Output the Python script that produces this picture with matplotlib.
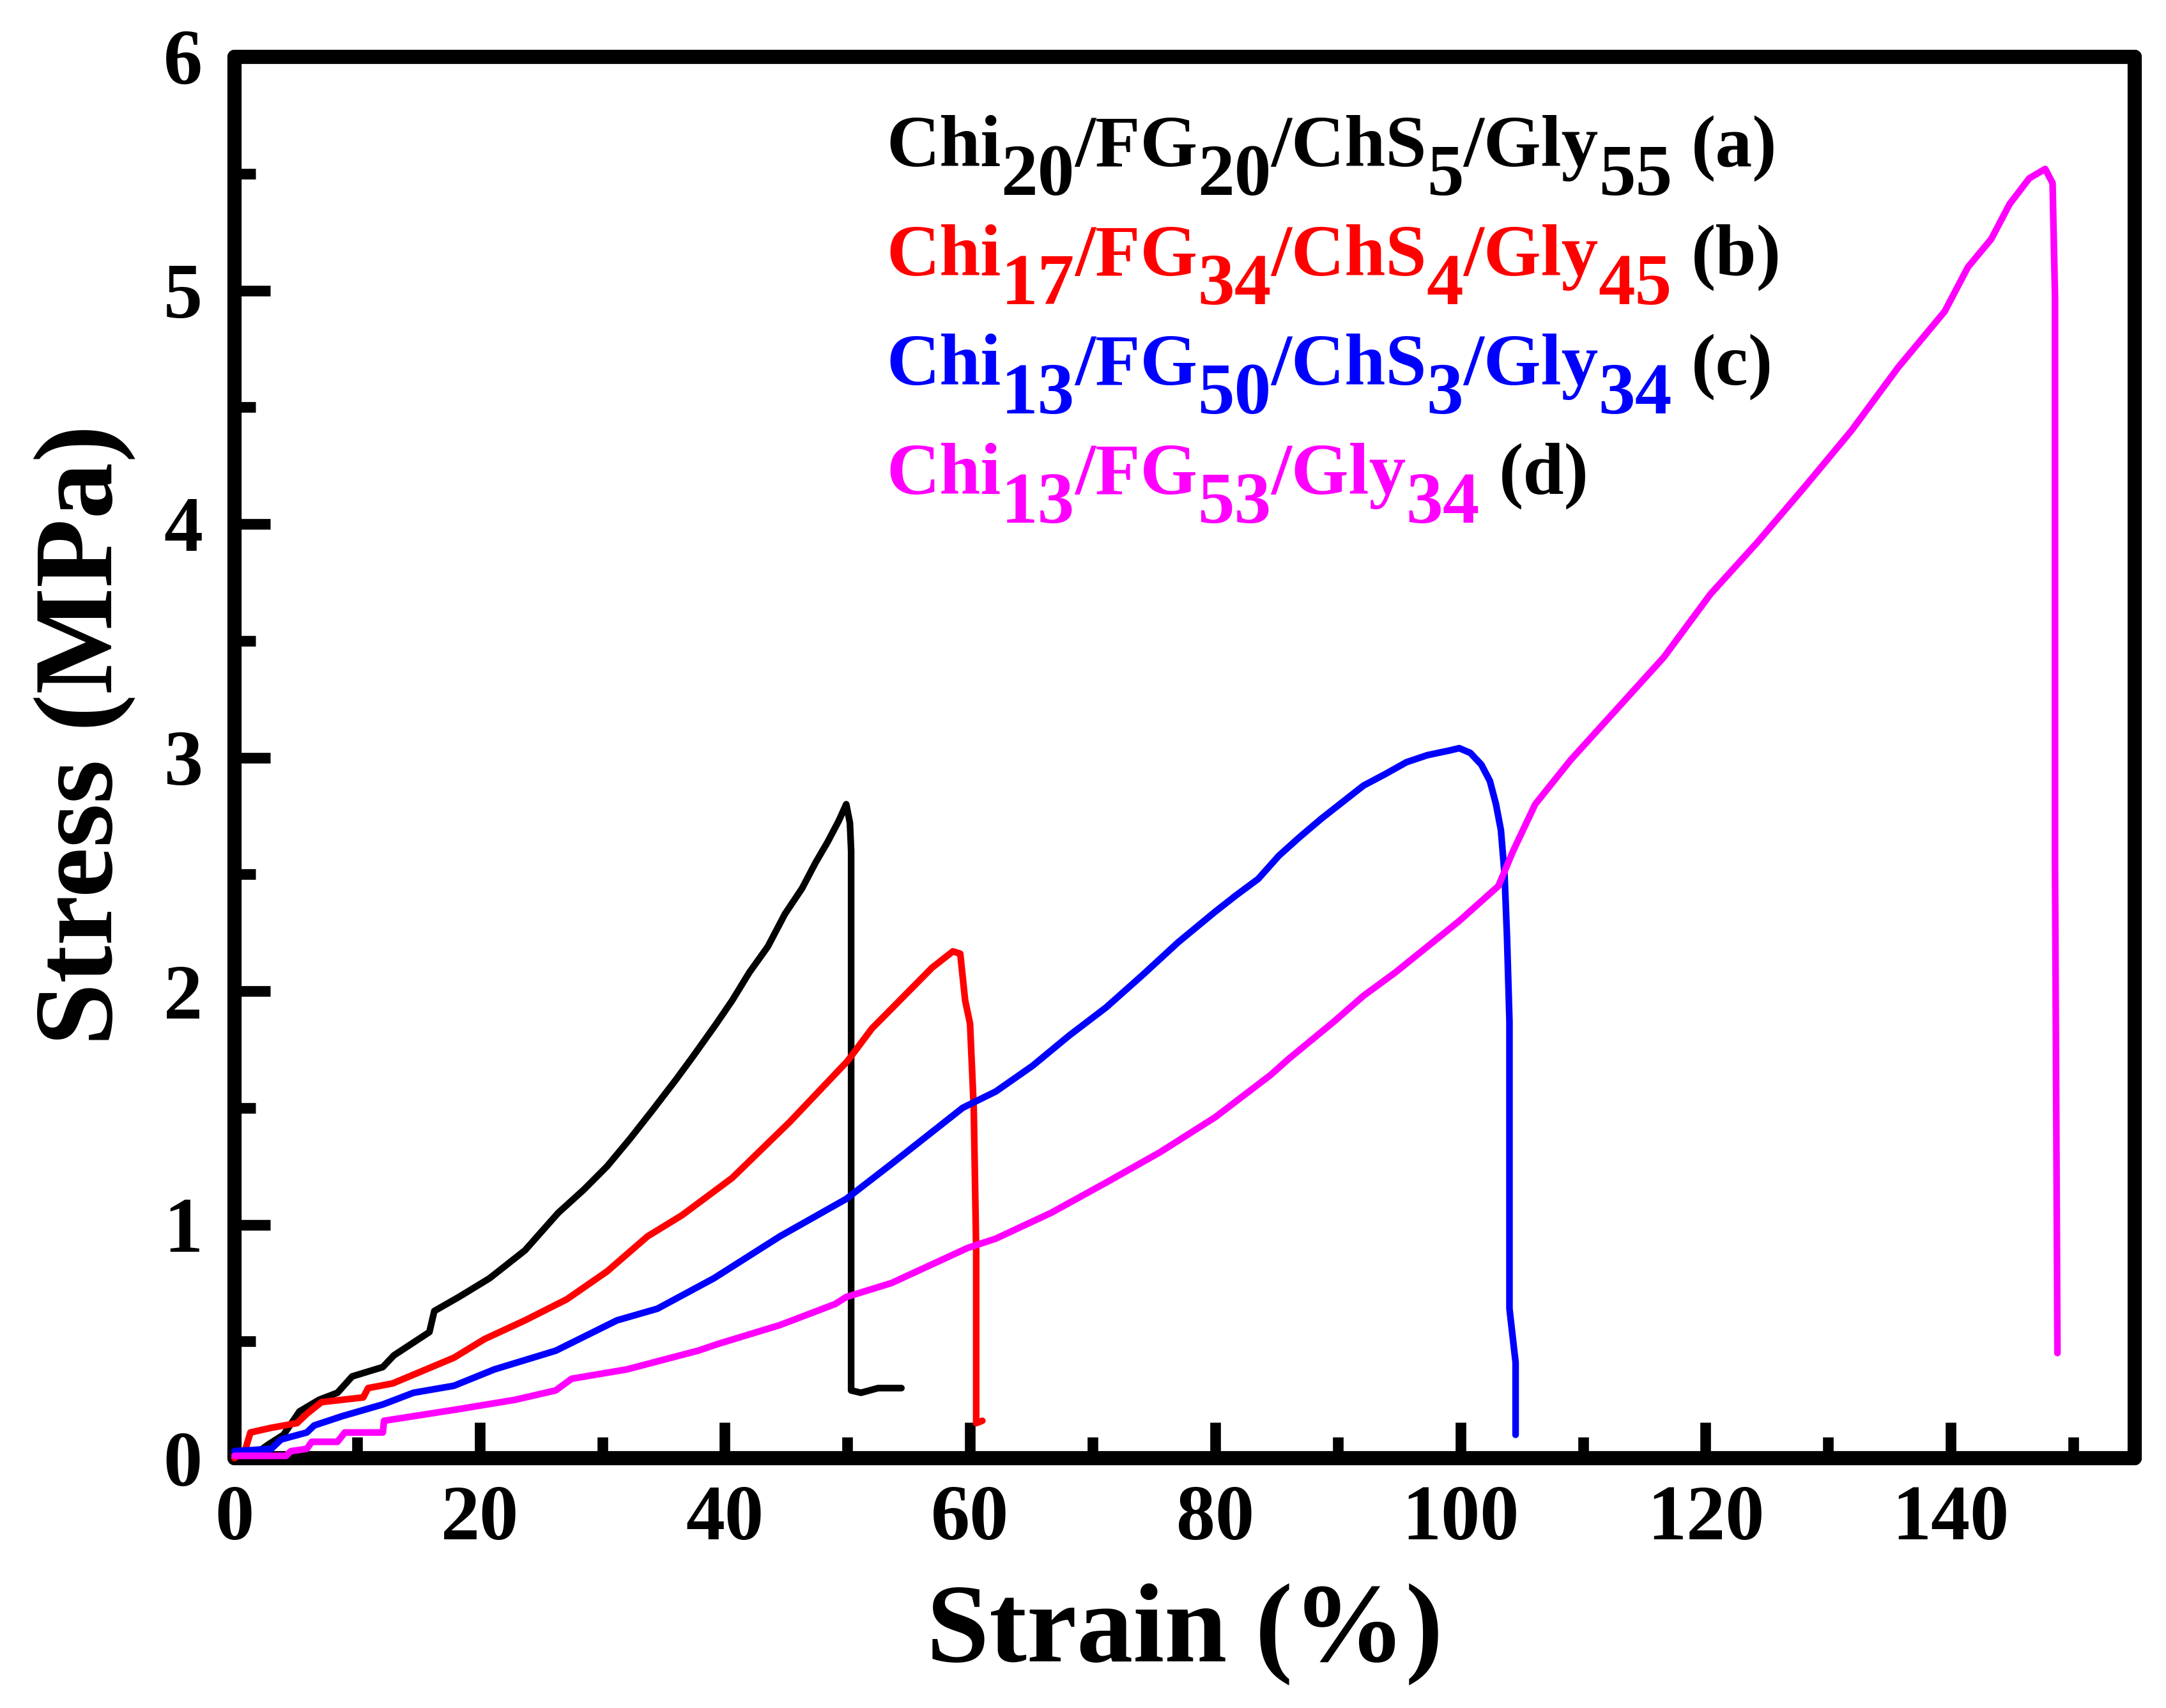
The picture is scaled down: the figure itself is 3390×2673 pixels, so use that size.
import matplotlib
matplotlib.use("Agg")
import matplotlib.pyplot as plt
from matplotlib.ticker import MultipleLocator, FixedLocator

# ---------------- data ----------------
strain_a = [0.0, 0.9, 2.0, 2.8, 4.0, 5.3, 6.9, 8.4, 9.6, 12.1, 13.0, 15.9, 16.3, 18.3, 20.8,
            23.7, 26.4, 28.5, 30.4, 32.3, 34.1, 36.0, 37.4, 39.3, 40.6, 42.0, 43.5, 44.9,
            46.3, 47.4, 48.4, 49.3, 49.9, 50.2, 50.3, 50.3, 50.3, 51.1, 52.5, 54.4]
stress_a = [0.0, 0.02, 0.03, 0.06, 0.10, 0.20, 0.25, 0.28, 0.35, 0.39, 0.44, 0.54, 0.63, 0.69,
            0.77, 0.89, 1.05, 1.15, 1.25, 1.37, 1.49, 1.62, 1.72, 1.86, 1.96, 2.08, 2.19, 2.33,
            2.44, 2.55, 2.64, 2.73, 2.80, 2.72, 2.60, 1.90, 0.29, 0.28, 0.30, 0.30]

strain_b = [0.0, 0.9, 1.3, 3.0, 5.1, 5.9, 7.1, 10.5, 10.9, 12.9, 17.9, 20.4, 23.7, 27.1, 30.4,
            33.7, 36.5, 40.6, 45.3, 50.0, 52.0, 53.7, 56.9, 58.6, 59.2, 59.6, 60.0, 60.3, 60.5,
            60.5, 61.0]
stress_b = [0.0, 0.04, 0.11, 0.13, 0.15, 0.19, 0.24, 0.26, 0.30, 0.32, 0.43, 0.51, 0.59, 0.68,
            0.80, 0.95, 1.04, 1.20, 1.44, 1.70, 1.84, 1.93, 2.10, 2.17, 2.16, 1.96, 1.86, 1.50,
            0.89, 0.15, 0.16]

strain_c = [0.0, 3.0, 3.8, 5.9, 6.5, 8.8, 12.1, 14.6, 17.9, 21.2, 26.2, 31.2, 34.5, 39.1, 44.5,
            49.9, 53.6, 59.4, 62.1, 65.1, 68.1, 71.1, 74.1, 77.0, 80.0, 81.7, 83.5, 85.2, 86.9,
            88.7, 90.4, 92.1, 93.9, 95.6, 97.3, 99.1, 99.9, 100.8, 101.7, 102.4, 102.9, 103.3,
            103.6, 103.8, 104.0, 104.0, 104.0, 104.5, 104.5]
stress_c = [0.03, 0.04, 0.08, 0.11, 0.14, 0.18, 0.23, 0.28, 0.31, 0.38, 0.46, 0.59, 0.64, 0.77,
            0.95, 1.11, 1.26, 1.50, 1.57, 1.68, 1.81, 1.93, 2.07, 2.21, 2.34, 2.41, 2.48, 2.58,
            2.66, 2.74, 2.81, 2.88, 2.93, 2.98, 3.01, 3.03, 3.04, 3.02, 2.97, 2.90, 2.80, 2.69,
            2.50, 2.23, 1.87, 1.20, 0.64, 0.41, 0.10]

strain_d = [0.0, 4.2, 4.6, 5.9, 6.3, 8.4, 9.0, 12.1, 12.2, 18.3, 22.9, 26.2, 27.5, 32.0, 37.8,
            39.5, 44.5, 49.0, 49.9, 53.6, 59.8, 62.1, 66.6, 71.1, 75.5, 80.0, 84.5, 86.0, 89.7,
            92.1, 94.7, 97.3, 99.9, 103.1, 104.3, 106.1, 109.0, 112.8, 116.6, 120.4, 124.2,
            128.1, 131.9, 135.7, 139.5, 141.4, 143.3, 144.8, 146.4, 147.7, 148.3, 148.5, 148.5,
            148.7]
stress_d = [0.01, 0.01, 0.03, 0.04, 0.07, 0.07, 0.11, 0.11, 0.16, 0.21, 0.25, 0.29, 0.34, 0.38,
            0.46, 0.49, 0.57, 0.66, 0.69, 0.75, 0.90, 0.94, 1.05, 1.18, 1.31, 1.46, 1.64, 1.71,
            1.87, 1.98, 2.08, 2.19, 2.30, 2.45, 2.60, 2.80, 2.99, 3.21, 3.43, 3.70, 3.92, 4.16,
            4.40, 4.67, 4.91, 5.10, 5.22, 5.37, 5.48, 5.52, 5.46, 4.97, 2.55, 0.45]

series_colors = ["#000000", "#FF0000", "#0000FF", "#FF00FF"]

# legend text pieces: (text, is_subscript)
legend_a = [("Chi", False), ("20", True), ("/FG", False), ("20", True),
            ("/ChS", False), ("5", True), ("/Gly", False), ("55", True)]
legend_b = [("Chi", False), ("17", True), ("/FG", False), ("34", True),
            ("/ChS", False), ("4", True), ("/Gly", False), ("45", True)]
legend_c = [("Chi", False), ("13", True), ("/FG", False), ("50", True),
            ("/ChS", False), ("3", True), ("/Gly", False), ("34", True)]
legend_d = [("Chi", False), ("13", True), ("/FG", False), ("53", True),
            ("/Gly", False), ("34", True)]
legend_tags = ["(a)", "(b)", "(c)", "(d)"]

x_ticks = [0, 20, 40, 60, 80, 100, 120, 140]
y_ticks = [0, 1, 2, 3, 4, 5, 6]
x_label = "Strain (%)"
y_label = "Stress (MPa)"

# ---------------- figure ----------------
W, H, DPI = 3390, 2673, 100
FONT = "Liberation Serif"
plt.rcParams["font.family"] = [FONT, "DejaVu Serif"]
plt.rcParams["font.weight"] = "bold"

fig = plt.figure(figsize=(W / DPI, H / DPI), dpi=DPI, facecolor="white")
ax = fig.add_axes([367 / W, 1 - 2282 / H, (3341 - 367) / W, (2282 - 89) / H])

curves = [(strain_a, stress_a), (strain_b, stress_b), (strain_c, stress_c), (strain_d, stress_d)]
for (xs, ys), c in zip(curves, series_colors):
    ax.plot(xs, ys, color=c, lw=7.5, solid_joinstyle="round", solid_capstyle="round",
            zorder=3, clip_on=False)

ax.set_xlim(0, 155)
ax.set_ylim(0, 6)
ax.xaxis.set_major_locator(FixedLocator(x_ticks))
ax.yaxis.set_major_locator(FixedLocator(y_ticks))
ax.xaxis.set_minor_locator(MultipleLocator(10))
ax.yaxis.set_minor_locator(MultipleLocator(0.5))
ax.set_xticklabels([str(v) for v in x_ticks])
ax.set_yticklabels([str(v) for v in y_ticks])

for s in ax.spines.values():
    s.set_linewidth(16)
    s.set_capstyle("round")
    s.set_joinstyle("round")

ax.tick_params(which="both", direction="in", top=False, right=False, color="black")
ax.tick_params(which="major", length=40, width=12)
ax.tick_params(which="minor", length=24, width=12)
ax.tick_params(axis="y", which="major", pad=36, labelsize=88)
ax.tick_params(axis="x", which="major", pad=30, labelsize=88)
for lab in ax.get_xticklabels() + ax.get_yticklabels():
    lab.set_fontweight("bold")
    lab.set_family(FONT)

ax.set_xlabel(x_label, fontsize=127, fontweight="bold", family=FONT)
ax.set_ylabel(y_label, fontsize=127, fontweight="bold", family=FONT)
ax.xaxis.set_label_coords(0.5, -0.089)
ax.yaxis.set_label_coords(-0.052, 0.516)

# ---------------- legend (text with same-size subscripts) ----------------
renderer = fig.canvas.get_renderer()
LEG_FS = 83
x_start = 1387
baselines = [260, 431, 602, 773]
sub_drop = 45
tag_gap = 30
rows = [legend_a, legend_b, legend_c, legend_d]
for row, tag, color, yb in zip(rows, legend_tags, series_colors, baselines):
    x = x_start
    for txt, sub in row:
        yy = yb + (sub_drop if sub else 0)
        t = fig.text(x / W, 1 - yy / H, txt, color=color, fontsize=LEG_FS,
                     fontweight="bold", family=FONT, ha="left", va="baseline")
        x += t.get_window_extent(renderer).width
    fig.text((x + tag_gap) / W, 1 - yb / H, tag, color="black", fontsize=LEG_FS,
             fontweight="bold", family=FONT, ha="left", va="baseline")

fig.savefig("out.png", dpi=DPI, facecolor="white")
